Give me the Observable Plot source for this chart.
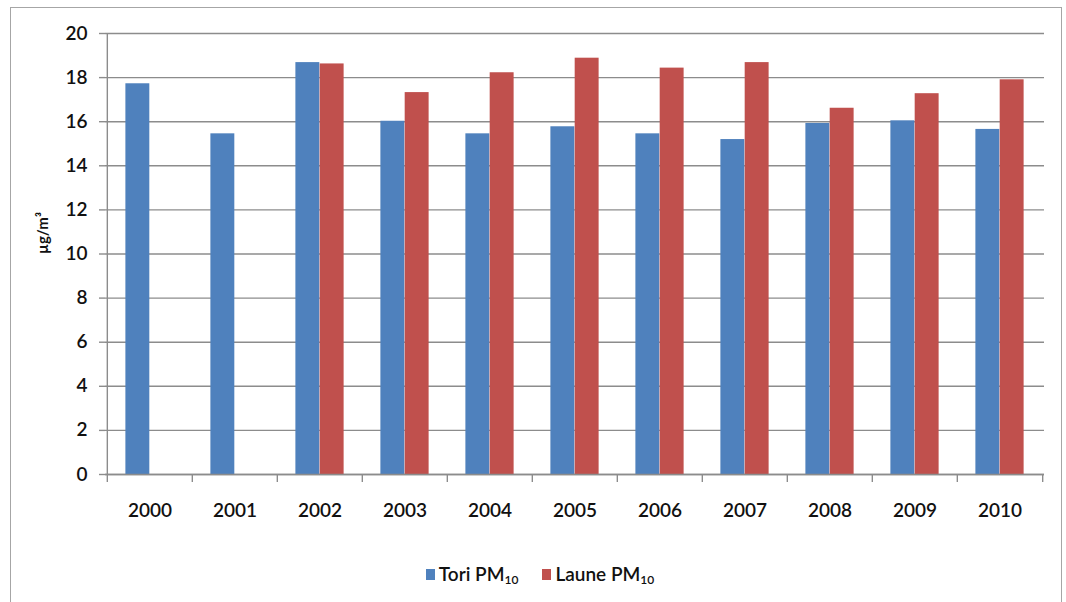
<!DOCTYPE html>
<html>
<head>
<meta charset="utf-8">
<script src="https://cdn.jsdelivr.net/npm/d3@7"></script>
<script src="https://cdn.jsdelivr.net/npm/@observablehq/plot@0.6"></script>
<style>
  html, body { margin: 0; padding: 0; background: #fff; }
  #wrap { position: relative; width: 1066px; height: 602px; overflow: hidden; font-family: Lato, "Open Sans", sans-serif; }
  #border { position: absolute; left: 10px; top: 7px; width: 1052px; height: 600px; border: 1px solid #a6a6a6; box-sizing: border-box; pointer-events: none; }
  #chart { position: absolute; left: 0; top: 0; }
  #legend { position: absolute; top: 562px; left: 0; width: 1066px; display: flex; justify-content: center; gap: 24px; font-size: 19px; color: #111; font-weight: 600; padding-left: 14px; box-sizing: border-box; }
  .item { display: flex; align-items: center; gap: 4px; }
  .sw { width: 9px; height: 11px; display: inline-block; }
  sub { font-size: 12px; vertical-align: -3px; }
</style>
</head>
<body>
<div id="wrap">
  <div id="chart"></div>
  <div id="border"></div>
  <div id="legend"></div>
</div>
<script>
const years = ["2000","2001","2002","2003","2004","2005","2006","2007","2008","2009","2010"];
const tori  = [17.72, 15.45, 18.68, 16.02, 15.45, 15.77, 15.45, 15.19, 15.92, 16.04, 15.65];
const laune = [null, null, 18.62, 17.32, 18.22, 18.88, 18.43, 18.68, 16.61, 17.27, 17.90];
const seriesNames = ["Tori PM", "Laune PM"];
const seriesColors = ["#4F81BD", "#C0504D"];
const yTicks = [0, 2, 4, 6, 8, 10, 12, 14, 16, 18, 20];
const yLabel = "µg/m³";

const W = 1066, H = 530;
const mL = 105, mR = 22, mT = 33, mB = H - 474;
const step = (W - mL - mR) / years.length;
const barW = 24.3;
const gray = "#8c8c8c";

const toriRows = years.map((y, i) => ({year: y, value: tori[i]}));
const launeRows = years.map((y, i) => ({year: y, value: laune[i]})).filter(d => d.value != null);

const chart = Plot.plot({
  width: W, height: H,
  marginLeft: mL, marginRight: mR, marginTop: mT, marginBottom: mB,
  style: {fontFamily: "Lato, 'Open Sans', sans-serif", background: "transparent"},
  x: {type: "band", domain: years, padding: 0, axis: null},
  y: {domain: [0, 20], axis: null},
  marks: [
    Plot.gridY(yTicks, {stroke: gray, strokeOpacity: 1, strokeWidth: 1.4}),
    Plot.barY(toriRows, {x: "year", y: "value", fill: seriesColors[0], insetLeft: step/2 - barW, insetRight: step/2}),
    Plot.barY(launeRows, {x: "year", y: "value", fill: seriesColors[1], insetLeft: step/2, insetRight: step/2 - barW}),
    Plot.ruleY([0], {stroke: gray, strokeWidth: 1.4}),
    Plot.ruleX([years[0]], {x: d => d, y1: 0, y2: 20, dx: -step/2, stroke: gray, strokeWidth: 1.4}),
    Plot.ruleX(years, {x: d => d, y1: 0, y2: 0, insetBottom: -8, dx: -step/2, stroke: gray, strokeWidth: 1.4}),
    Plot.ruleX([years[years.length-1]], {x: d => d, y1: 0, y2: 0, insetBottom: -8, dx: step/2, stroke: gray, strokeWidth: 1.4}),
    Plot.axisY({ticks: yTicks, tickSize: 6, tickPadding: 12, stroke: gray, strokeWidth: 1.4, fontSize: 19, fontWeight: 600, fill: "#111", label: null}),
    Plot.axisX({tickSize: 0, tickPadding: 29, fontSize: 19, fontWeight: 600, fill: "#111", label: null}),
    Plot.text([yLabel], {frameAnchor: "left", dx: -62, rotate: -90, fontSize: 15, fontWeight: 700, fill: "#111"})
  ]
});
document.getElementById("chart").appendChild(chart);

const legend = document.getElementById("legend");
seriesNames.forEach((n, i) => {
  const it = document.createElement("div");
  it.className = "item";
  it.innerHTML = `<span class="sw" style="background:${seriesColors[i]}"></span><span>${n}<sub>10</sub></span>`;
  legend.appendChild(it);
});
</script>
</body>
</html>
